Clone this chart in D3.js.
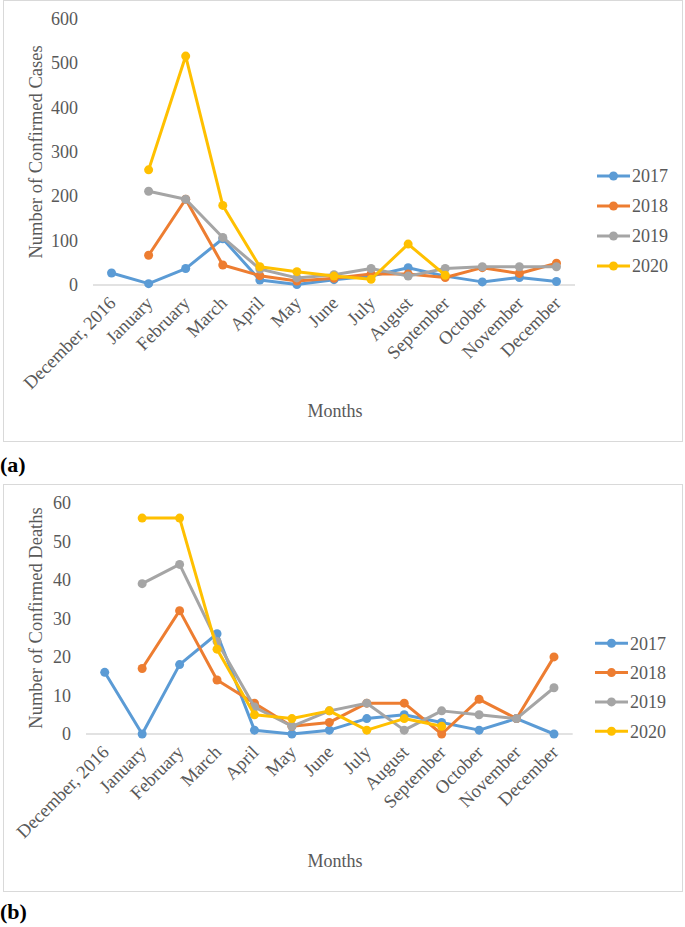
<!DOCTYPE html>
<html><head><meta charset="utf-8">
<script src="https://cdn.jsdelivr.net/npm/d3@7"></script>
<style>body{margin:0;background:#fff}</style>
</head><body>
<svg id="c" width="685" height="927"></svg>
<script>
const months = ["December, 2016","January","February","March","April","May","June","July","August","September","October","November","December"];
const years = ["2017","2018","2019","2020"];
const colors = ["#5B9BD5","#ED7D31","#A5A5A5","#FFC000"];
// (a) confirmed cases
const cases2017 = [27,3,37,104,11,1,12,20,39,20,7,17,8];
const cases2018 = [null,67,193,45,21,9,15,25,25,17,39,26,49];
const cases2019 = [null,211,193,107,36,16,23,37,20,37,41,41,41];
const cases2020 = [null,259,515,179,41,30,20,13,92,22,null,null,null];
const casesTicks = [0,100,200,300,400,500,600];
// (b) confirmed deaths
const deaths2017 = [16,0,18,26,1,0,1,4,5,3,1,4,0];
const deaths2018 = [null,17,32,14,8,2,3,8,8,0,9,4,20];
const deaths2019 = [null,39,44,24,7,2,6,8,1,6,5,4,12];
const deaths2020 = [null,56,56,22,5,4,6,1,4,2,null,null,null];
const deathsTicks = [0,10,20,30,40,50,60];

const svg = d3.select("#c");
const font = "'Liberation Serif','Times New Roman',serif";
const txt = "#595959";

function panel(o){
  const g = svg.append("g");
  g.append("rect").attr("x",o.fx).attr("y",o.fy).attr("width",o.fw).attr("height",o.fh)
    .attr("fill","none").attr("stroke","#D9D9D9").attr("stroke-width",1);
  const x = d3.scaleBand().domain(months).range([o.x0,o.x1]);
  const y = d3.scaleLinear().domain([0,o.max]).range([o.y0,o.y1]);
  // y tick labels
  g.selectAll(".yt").data(o.ticks).enter().append("text")
    .attr("x",o.x0-15).attr("y",d=>y(d)).attr("dy","0.35em")
    .attr("text-anchor","end").attr("font-family",font).attr("font-size",18).attr("fill",txt)
    .text(d=>d);
  // baseline axis
  g.append("line").attr("x1",o.x0).attr("x2",o.x1).attr("y1",y(0)).attr("y2",y(0))
    .attr("stroke","#D9D9D9").attr("stroke-width",1.5);
  // x labels
  g.selectAll(".xt").data(months).enter().append("text")
    .attr("transform",d=>`translate(${x(d)+x.bandwidth()/2-4},${y(0)+o.xlOff}) rotate(-45)`)
    .attr("dy","0.71em").attr("text-anchor","end")
    .attr("font-family",font).attr("font-size",18.5).attr("fill",txt).text(d=>d);
  // axis titles
  g.append("text").attr("transform",`translate(${o.ytx},${o.yty}) rotate(-90)`)
    .attr("text-anchor","middle").attr("dy","0.35em").attr("font-family",font).attr("font-size",18.5)
    .attr("fill",txt).text(o.ytitle);
  g.append("text").attr("x",o.xtx).attr("y",o.xty).attr("text-anchor","middle").attr("dy","0.35em")
    .attr("font-family",font).attr("font-size",18).attr("fill",txt).text("Months");
  // series
  const line = d3.line().defined(d=>d.v!=null).x(d=>x(d.m)+x.bandwidth()/2).y(d=>y(d.v));
  o.series.forEach((s,i)=>{
    const pts = months.map((m,j)=>({m:m,v:s[j]}));
    g.append("path").datum(pts).attr("d",line).attr("fill","none")
      .attr("stroke",colors[i]).attr("stroke-width",3).attr("stroke-linejoin","round");
    g.selectAll(null).data(pts.filter(d=>d.v!=null)).enter().append("circle")
      .attr("cx",d=>x(d.m)+x.bandwidth()/2).attr("cy",d=>y(d.v)).attr("r",4.5).attr("fill",colors[i]);
  });
  // legend
  years.forEach((yr,i)=>{
    const ly = o.ly + i*o.lstep;
    g.append("line").attr("x1",o.lx).attr("x2",o.lx+33).attr("y1",ly).attr("y2",ly)
      .attr("stroke",colors[i]).attr("stroke-width",3);
    g.append("circle").attr("cx",o.lx+16.5).attr("cy",ly).attr("r",4.5).attr("fill",colors[i]);
    g.append("text").attr("x",o.lx+35).attr("y",ly).attr("dy","0.35em")
      .attr("font-family",font).attr("font-size",18).attr("fill",txt).text(yr);
  });
  // panel label
  svg.append("text").attr("x",0).attr("y",o.lab_y).attr("font-family",font).attr("font-weight","bold")
    .attr("font-size",22).attr("fill","#000").text(o.label);
}

panel({fx:3.5,fy:0.5,fw:679,fh:441,x0:93,x1:575,y0:285,y1:18.3,max:600,ticks:casesTicks,
  ytitle:"Number of Confirmed Cases",ytx:36,yty:152,xtx:335,xty:411,xlOff:10,
  series:[cases2017,cases2018,cases2019,cases2020],lx:597,ly:176,lstep:30,label:"(a)",lab_y:472});
panel({fx:3.5,fy:484.5,fw:679,fh:407,x0:86,x1:572.7,y0:734,y1:502.7,max:60,ticks:deathsTicks,
  ytitle:"Number of Confirmed Deaths",ytx:36,yty:618,xtx:335,xty:861,xlOff:10,
  series:[deaths2017,deaths2018,deaths2019,deaths2020],lx:595,ly:643.3,lstep:29.3,label:"(b)",lab_y:919});
</script>
</body></html>
